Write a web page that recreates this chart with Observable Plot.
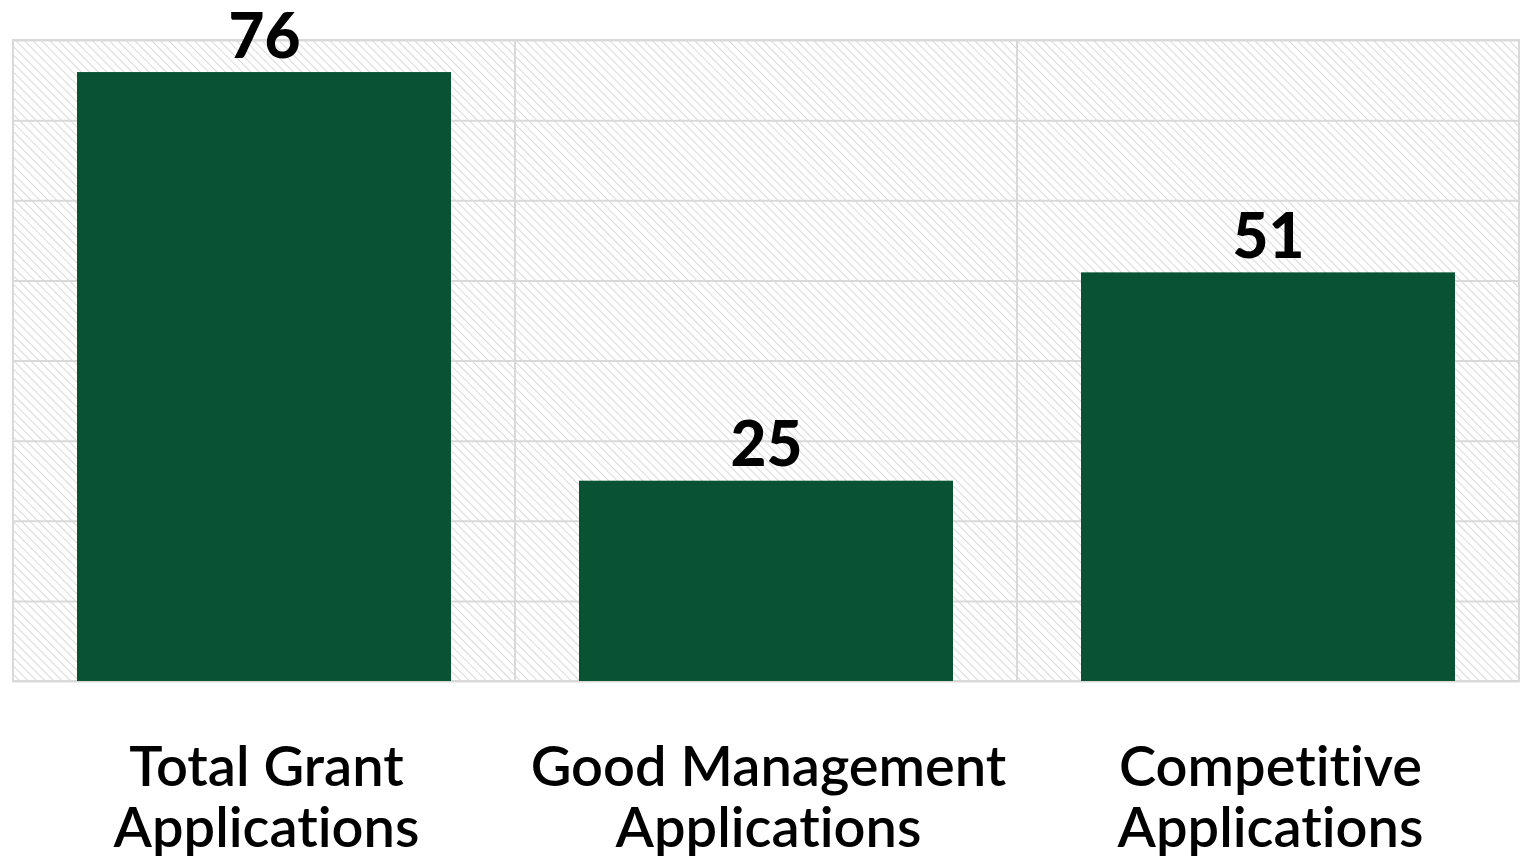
<!DOCTYPE html>
<html>
<head>
<meta charset="utf-8">
<script src="https://cdn.jsdelivr.net/npm/d3@7"></script>
<script src="https://cdn.jsdelivr.net/npm/@observablehq/plot@0.6"></script>
<style>
  html, body { margin: 0; padding: 0; background: #ffffff; }
  #chart svg { display: block; }
  #chart svg text { font-variant-ligatures: none; font-feature-settings: "liga" 0, "clig" 0, "dlig" 0; }
</style>
</head>
<body>
<div id="chart"></div>
<script>
const categories = ["Total Grant Applications", "Good Management Applications", "Competitive Applications"];
const labelLines = [["Total Grant", "Applications"], ["Good Management", "Applications"], ["Competitive", "Applications"]];
const values = [76, 25, 51];
const yTicks = [0, 10, 20, 30, 40, 50, 60, 70, 80];

const data = categories.map((c, i) => ({category: c, value: values[i]}));
const labelMap = new Map(categories.map((c, i) => [c, labelLines[i].join("\n")]));

const chart = Plot.plot({
  width: 1531,
  height: 864,
  marginTop: 40,
  marginBottom: 183,
  marginLeft: 12,
  marginRight: 12,
  style: {background: "#ffffff"},
  x: {domain: categories, padding: 0, axis: null},
  y: {domain: [0, 80], axis: null},
  marks: [
    Plot.barY(categories, {x: d => d, y1: 0, y2: 80, fill: "url(#hatch)", stroke: "#d9d9d9", strokeWidth: 2}),
    Plot.ruleY(yTicks, {stroke: "#d9d9d9", strokeWidth: 2}),
    Plot.barY(data, {x: "category", y: "value", fill: "#095233", insetLeft: 64, insetRight: 64}),
    Plot.text(data, {x: "category", y: "value", text: d => String(d.value), dy: -15, lineAnchor: "bottom",
      fontSize: 62, fontWeight: 900, fill: "#000000", fontFamily: "Lato"}),
    Plot.axisX({tickSize: 0, tickPadding: 62, tickFormat: d => labelMap.get(d), fontSize: 56,
      lineHeight: 1.08, fontFamily: "Lato", fontWeight: 600, fill: "#000000", dx: 2, label: null})
  ]
});

// hatch pattern defs
const svgNS = "http://www.w3.org/2000/svg";
const defs = document.createElementNS(svgNS, "defs");
defs.innerHTML = `<pattern id="hatch" patternUnits="userSpaceOnUse" width="6" height="6" patternTransform="rotate(-45)">
  <rect width="6" height="6" fill="#ffffff"/>
  <line x1="0" y1="0" x2="0" y2="6" stroke="#d9d9d9" stroke-width="2"/>
</pattern>`;
chart.insertBefore(defs, chart.firstChild);
document.getElementById("chart").appendChild(chart);
</script>
</body>
</html>
